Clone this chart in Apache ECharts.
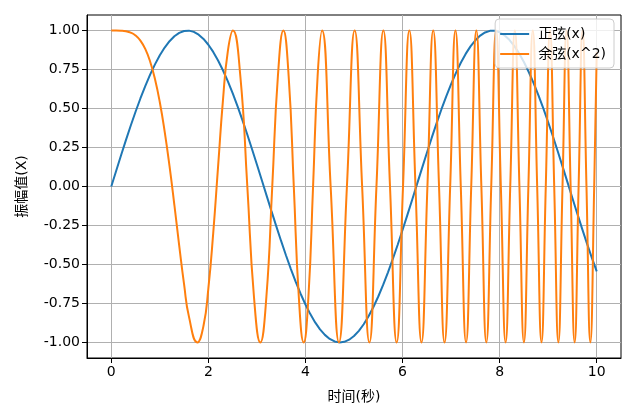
<!DOCTYPE html>
<html><head><meta charset="utf-8">
<script src="https://cdn.jsdelivr.net/npm/echarts@6/dist/echarts.min.js"></script>
<style>html,body{margin:0;padding:0;background:#fff}#c{width:640px;height:409px}</style>
</head><body><div id="c"></div>
<script>
// tick labels
const xTicks = [0, 2, 4, 6, 8, 10];
const yTicks = [-1, -0.75, -0.5, -0.25, 0, 0.25, 0.5, 0.75, 1];
const seriesNames = ['正弦(x)', '余弦(x^2)'];
// 正弦(x) read points
const sinX = [0,0.1,0.2,0.3,0.4,0.5,0.6,0.7,0.8,0.9,1,1.1,1.2,1.3,1.4,1.5,1.6,1.7,1.8,1.9,2,2.1,2.2,2.3,2.4,2.5,2.6,2.7,2.8,2.9,3,3.1,3.2,3.3,3.4,3.5,3.6,3.7,3.8,3.9,4,4.1,4.2,4.3,4.4,4.5,4.6,4.7,4.8,4.9,5,5.1,5.2,5.3,5.4,5.5,5.6,5.7,5.8,5.9,6,6.1,6.2,6.3,6.4,6.5,6.6,6.7,6.8,6.9,7,7.1,7.2,7.3,7.4,7.5,7.6,7.7,7.8,7.9,8,8.1,8.2,8.3,8.4,8.5,8.6,8.7,8.8,8.9,9,9.1,9.2,9.3,9.4,9.5,9.6,9.7,9.8,9.9,10];
const sinY = [0,0.0998,0.1987,0.2955,0.3894,0.4794,0.5646,0.6442,0.7174,0.7833,0.8415,0.8912,0.932,0.9636,0.9854,0.9975,0.9996,0.9917,0.9738,0.9463,0.9093,0.8632,0.8085,0.7457,0.6755,0.5985,0.5155,0.4274,0.335,0.2392,0.1411,0.0416,-0.0584,-0.1577,-0.2555,-0.3508,-0.4425,-0.5298,-0.6119,-0.6878,-0.7568,-0.8183,-0.8716,-0.9162,-0.9516,-0.9775,-0.9937,-0.9999,-0.9962,-0.9825,-0.9589,-0.9258,-0.8835,-0.8323,-0.7728,-0.7055,-0.6313,-0.5507,-0.4646,-0.3739,-0.2794,-0.1822,-0.0831,0.0168,0.1165,0.2151,0.3115,0.4048,0.4941,0.5784,0.657,0.729,0.7937,0.8504,0.8987,0.938,0.9679,0.9882,0.9985,0.9989,0.9894,0.9699,0.9407,0.9022,0.8546,0.7985,0.7344,0.663,0.5849,0.501,0.4121,0.3191,0.2229,0.1245,0.0248,-0.0752,-0.1743,-0.2718,-0.3665,-0.4575,-0.544];
// 余弦(x^2) read points (peaks, troughs, crossings)
const cosX = [0,0.1,0.2,0.3,0.4,0.5,0.6,0.7,0.8,0.9,1.0,1.1,1.2,1.3,1.4,1.5,1.6,1.7725,1.9,2.0,2.1,2.2,2.3,2.4,2.5066,2.6587,2.8025,2.9393,3.07,3.1953,3.316,3.4323,3.5449,3.654,3.7599,3.863,3.9633,4.0612,4.1568,4.2502,4.3416,4.5189,4.6895,4.8541,5.0133,5.1675,5.3174,5.4624,5.605,5.7416,5.8786,6.0098,6.14,6.2666,6.3906,6.5124,6.6318,6.7516,6.8647,6.9812,7.0898,7.1997,7.3081,7.4147,7.5199,7.6236,7.7259,7.8269,7.9267,8.0251,8.1226,8.2185,8.3136,8.4075,8.5002,8.5923,8.6832,8.7732,8.8623,8.9505,9.0377,9.1243,9.21,9.2949,9.3788,9.4623,9.5448,9.6269,9.7081,9.7887,9.8687,9.9479,10];
const cosY = [1,1,0.9992,0.996,0.9872,0.9689,0.9359,0.8823,0.8021,0.6895,0.5403,0.3523,0.1304,-0.1187,-0.3809,-0.6282,-0.8347,-1,-0.8931,-0.6536,-0.2989,0.1271,0.5507,0.8653,1,0.707,0,-0.707,-1,-0.707,0,0.707,1,0.707,0,-0.707,-1,-0.707,0,0.707,1,0,-1,0,1,0,-1,0,1,0,-1,0,1,0,-1,0,1,0,-1,0,1,0,-1,0,1,0,-1,0,1,0,-1,0,1,0,-1,0,1,0,-1,0,1,0,-1,0,1,0,-1,0,1,0,-1,0,0.862];

const chart = echarts.init(document.getElementById('c'), null, {renderer: 'canvas'});
const font = 'DejaVu Sans, Noto Sans CJK SC, sans-serif';
const fs = 14;
chart.setOption({
  animation: false,
  textStyle: {fontFamily: font},
  grid: {left: 87, right: 19, top: 15, bottom: 51, show: true, borderColor: '#000', borderWidth: 1, backgroundColor: 'transparent'},
  legend: {
    orient: 'vertical', right: 26, top: 19,
    data: seriesNames,
    icon: 'rect',
    itemWidth: 29, itemHeight: 2, itemGap: 6,
    padding: [8, 8, 7, 5],
    backgroundColor: 'rgba(255,255,255,0.8)', borderColor: '#cccccc', borderWidth: 1, borderRadius: 4,
    textStyle: {fontFamily: font, fontSize: fs, color: '#000', padding: [0, 0, 0, 4]}
  },
  xAxis: {
    type: 'value', min: -0.5, max: 10.5,
    name: '时间(秒)', nameLocation: 'middle', nameGap: 32,
    nameTextStyle: {fontFamily: font, fontSize: fs, color: '#000'},
    axisLine: {show: true, onZero: false, lineStyle: {color: '#000', width: 1}},
    axisTick: {show: true, customValues: xTicks, length: 5, lineStyle: {color: '#000'}},
    axisLabel: {customValues: xTicks, color: '#000', fontSize: fs, margin: 7, fontFamily: font},
    splitLine: {show: true, lineStyle: {color: '#b0b0b0', width: 1}}
  },
  yAxis: {
    type: 'value', min: -1.1, max: 1.1,
    name: '振幅值(X)', nameLocation: 'middle', nameGap: 58,
    nameTextStyle: {fontFamily: font, fontSize: fs, color: '#000'},
    axisLine: {show: true, onZero: false, lineStyle: {color: '#000', width: 1}},
    axisTick: {show: true, customValues: yTicks, length: 5, lineStyle: {color: '#000'}},
    axisLabel: {customValues: yTicks, color: '#000', fontSize: fs, margin: 7, fontFamily: font,
      formatter: v => v.toFixed(2)},
    splitLine: {show: true, lineStyle: {color: '#b0b0b0', width: 1}}
  },
  series: [
    {name: seriesNames[0], type: 'line', symbol: 'none', smooth: false,
     lineStyle: {color: '#1f77b4', width: 2}, itemStyle: {color: '#1f77b4'},
     data: sinX.map((x, i) => [x, sinY[i]])},
    {name: seriesNames[1], type: 'line', symbol: 'none', smooth: true,
     lineStyle: {color: '#ff7f0e', width: 2}, itemStyle: {color: '#ff7f0e'},
     data: cosX.map((x, i) => [x, cosY[i]])}
  ]
});
</script></body></html>
